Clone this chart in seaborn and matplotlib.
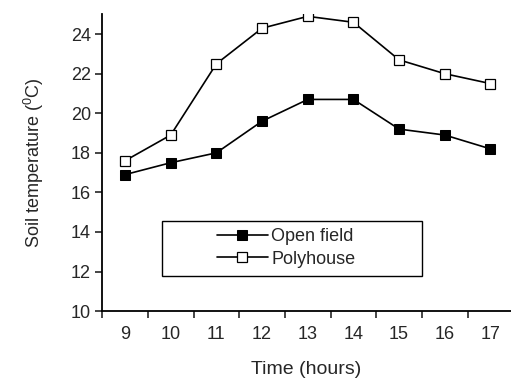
import numpy as np
import pandas as pd
import matplotlib
matplotlib.use('Agg')
import matplotlib.pyplot as plt
import seaborn as sns
from matplotlib.patches import Rectangle

# Data
hours = ['9', '10', '11', '12', '13', '14', '15', '16', '17']
open_field = [16.9, 17.5, 18.0, 19.6, 20.7, 20.7, 19.2, 18.9, 18.2]
polyhouse = [17.6, 18.9, 22.5, 24.3, 24.9, 24.6, 22.7, 22.0, 21.5]
y_ticks = [10, 12, 14, 16, 18, 20, 22, 24]

sns.set_style('ticks')
plt.rcParams['font.family'] = ['Liberation Sans', 'DejaVu Sans']
plt.rcParams['mathtext.fontset'] = 'custom'
plt.rcParams['mathtext.rm'] = 'Liberation Sans'

pos = np.arange(len(hours))
df = pd.DataFrame({'pos': pos, 'Open field': open_field, 'Polyhouse': polyhouse})

fig = plt.figure(figsize=(5.11, 3.78), dpi=100)
ax = fig.add_axes([0.2, 0.177, 0.8, 0.785])

sns.lineplot(data=df, x='pos', y='Open field', ax=ax, color='black', lw=1.2,
             marker='s', markersize=6.5, markerfacecolor='black',
             markeredgecolor='black', label='Open field')
sns.lineplot(data=df, x='pos', y='Polyhouse', ax=ax, color='black', lw=1.2,
             marker='s', markersize=6.5, markerfacecolor='white',
             markeredgecolor='black', markeredgewidth=0.9, label='Polyhouse')

ax.set_xlim(-0.5, 8.45)
ax.set_ylim(10, 25)
ax.set_yticks(y_ticks)
ax.set_xticks(pos)
ax.set_xticklabels(hours)
ax.set_xticks(np.arange(-0.5, 8.0, 1.0), minor=True)
ax.tick_params(axis='x', which='major', length=0, pad=11, labelsize=13)
ax.tick_params(axis='x', which='minor', length=5, width=1.2, direction='out')
ax.tick_params(axis='y', length=5, width=1.2, labelsize=13, pad=3)

for s in ['top', 'right']:
    ax.spines[s].set_visible(False)
for s in ['left', 'bottom']:
    ax.spines[s].set_linewidth(1.3)
    ax.spines[s].set_color('black')

ax.set_xlabel('Time (hours)', fontsize=14, labelpad=13)
ax.set_ylabel('Soil temperature ($^{0}$C)', fontsize=13, labelpad=18)

# legend box
ax.add_patch(Rectangle((0.147, 0.118), 0.635, 0.186, transform=ax.transAxes,
                       fill=False, edgecolor='black', lw=1.0, zorder=3))
leg = ax.legend(loc='center', bbox_to_anchor=(0.45, 0.213), frameon=False,
                fontsize=13, handlelength=2.8, handletextpad=0.2,
                labelspacing=0.3)

fig.savefig('out.png', dpi=100)
